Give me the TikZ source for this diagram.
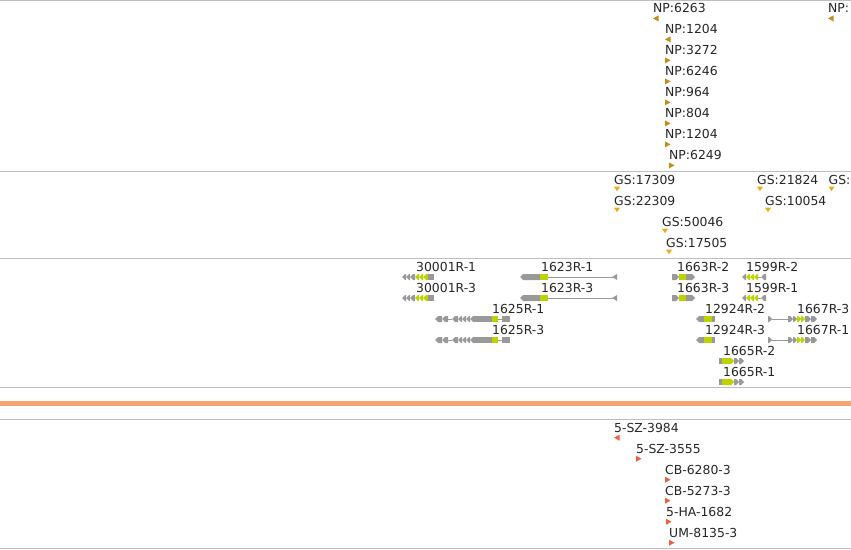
\documentclass[tikz,border=0pt]{standalone}
\usepackage{fontspec}
\setmainfont{DejaVu Sans}

\definecolor{npcol}{RGB}{200,140,20}
\definecolor{gscol}{RGB}{240,170,30}
\definecolor{svcol}{RGB}{240,95,65}
\definecolor{gcol}{RGB}{153,153,153}
\definecolor{cdscol}{RGB}{190,210,0}
\definecolor{sepcol}{RGB}{190,190,190}
\definecolor{bandcol}{RGB}{244,164,112}

\tikzset{
	lab/.style={anchor=base west,inner sep=0pt,text=black!85,font=\fontsize{12.4}{14}\selectfont},
	sepline/.style={draw=sepcol,line width=1pt}
}

% markers under the labels
\newcommand{\tipL}[2]{\fill[#1,shift={(#2.base west)}] (0,5.7) -- (5.5,2.7) -- (5.5,8.7) -- cycle;}
\newcommand{\tipR}[2]{\fill[#1,shift={(#2.base west)}] (0,2.7) -- (5.5,5.7) -- (0,8.7) -- cycle;}
\newcommand{\tipD}[2]{\fill[#1,shift={(#2.base west)}] (0,2.7) -- (6,2.7) -- (3,7.2) -- cycle;}

% gene parts: from, to, row, colour
\newcommand{\exL}[4]{\fill[#4] (#1,#3) -- (#1+3,#3-3) -- (#2,#3-3) -- (#2,#3+3) -- (#1+3,#3+3) -- cycle;}
\newcommand{\exR}[4]{\fill[#4] (#1,#3-3) -- (#2-3,#3-3) -- (#2,#3) -- (#2-3,#3+3) -- (#1,#3+3) -- cycle;}
\newcommand{\exB}[4]{\fill[#4] (#1,#3-3) rectangle (#2,#3+3);}
\newcommand{\intr}[3]{\draw[gcol,line width=1pt] (#1,#3) -- (#2,#3);}

\begin{document}
\begin{tikzpicture}[x=1pt,y=-1pt]
		\useasboundingbox (0,0) rectangle (851,549);
		\clip (0,0) rectangle (851,549);

		% track borders
		\draw[sepline]
			(0,0.5) -- (851,0.5)
			(0,171) -- (851,171)
			(0,258) -- (851,258)
			(0,387) -- (851,387)
			(0,419) -- (851,419)
			(0,548) -- (851,548);
		\fill[bandcol] (0,401) rectangle (851,406);

		% NP track
		\node[lab] (np1) at (653,12.7) {NP:6263};
		\node[lab] (np2) at (828,12.7) {NP:};
		\node[lab] (np3) at (665,33.7) {NP:1204};
		\node[lab] (np4) at (665,54.7) {NP:3272};
		\node[lab] (np5) at (665,75.7) {NP:6246};
		\node[lab] (np6) at (665,96.7) {NP:964};
		\node[lab] (np7) at (665,117.7) {NP:804};
		\node[lab] (np8) at (665,138.7) {NP:1204};
		\node[lab] (np9) at (669,159.7) {NP:6249};
		\tipL{npcol}{np1} \tipL{npcol}{np2} \tipL{npcol}{np3}
		\foreach \n in {np4,np5,np6,np7,np8,np9} {\tipR{npcol}{\n}}

		% GS track
		\node[lab] (gs1) at (614,184) {GS:17309};
		\node[lab] (gs2) at (614,205) {GS:22309};
		\node[lab] (gs3) at (662,226) {GS:50046};
		\node[lab] (gs4) at (666,247) {GS:17505};
		\node[lab] (gs5) at (757,184) {GS:21824};
		\node[lab] (gs6) at (765,205) {GS:10054};
		\node[lab] (gs7) at (828.5,184) {GS:};
		\foreach \n in {gs1,gs2,gs3,gs4,gs5,gs6,gs7} {\tipD{gscol}{\n}}

		% transcripts
		\node[lab] (t30001a) at (416,271) {30001R-1};
		\node[lab] (t30001b) at (416,292) {30001R-3};
		\node[lab] (t1623a) at (541,271) {1623R-1};
		\node[lab] (t1623b) at (541,292) {1623R-3};
		\node[lab] (t1625a) at (492,313) {1625R-1};
		\node[lab] (t1625b) at (492,334) {1625R-3};
		\node[lab] (t1663a) at (677,271) {1663R-2};
		\node[lab] (t1663b) at (677,292) {1663R-3};
		\node[lab] (t1599a) at (746,271) {1599R-2};
		\node[lab] (t1599b) at (746,292) {1599R-1};
		\node[lab] (t12924a) at (705,313) {12924R-2};
		\node[lab] (t12924b) at (705,334) {12924R-3};
		\node[lab] (t1667a) at (797,313) {1667R-3};
		\node[lab] (t1667b) at (797,334) {1667R-1};
		\node[lab] (t1665a) at (723,355) {1665R-2};
		\node[lab] (t1665b) at (723,376) {1665R-1};

		\foreach \y in {277,298} {
			\exL{402}{406}{\y}{gcol} \exL{406}{410}{\y}{gcol} \exL{410}{415}{\y}{gcol}
			\exL{415}{419}{\y}{cdscol} \exL{419}{423}{\y}{cdscol} \exL{423}{428}{\y}{cdscol}
			\exB{428}{434}{\y}{gcol}

			\exL{520}{540}{\y}{gcol} \exB{540}{548}{\y}{cdscol}
			\intr{548}{613}{\y}
			\fill[gcol] (612,\y) -- (617,\y-3) -- (617,\y+3) -- cycle;

			\exR{672}{679}{\y}{gcol} \exB{679}{686}{\y}{cdscol} \exR{686}{695}{\y}{gcol}

			\exL{742}{746}{\y}{gcol} \exL{746}{750}{\y}{cdscol} \exL{750}{754}{\y}{cdscol}
			\exL{754}{758}{\y}{cdscol} \intr{758}{761}{\y} \exL{761}{766}{\y}{gcol}
		}
		\foreach \y in {319,340} {
			\exL{435}{442}{\y}{gcol} \exL{442}{448}{\y}{gcol} \intr{448}{452}{\y}
			\exL{452}{458}{\y}{gcol} \exL{458}{462}{\y}{gcol} \exL{462}{466}{\y}{gcol}
			\exL{466}{470}{\y}{gcol} \exL{470}{474}{\y}{gcol} \exB{474}{492}{\y}{gcol}
			\exB{492}{498}{\y}{cdscol} \intr{498}{502}{\y} \exB{502}{510}{\y}{gcol}

			\exL{696}{704}{\y}{gcol} \exB{704}{712}{\y}{cdscol} \exB{712}{715}{\y}{gcol}

			\exR{768}{772}{\y}{gcol} \intr{772}{788}{\y}
			\exR{788}{793}{\y}{gcol} \exR{793}{797}{\y}{gcol}
			\exR{797}{801}{\y}{cdscol} \exR{801}{805}{\y}{cdscol}
			\exR{805}{811}{\y}{gcol} \exR{811}{817}{\y}{gcol}
		}
		\foreach \y in {361,382} {
			\exB{719}{722}{\y}{gcol} \exR{722}{734}{\y}{cdscol}
			\exR{734}{739}{\y}{gcol} \exR{739}{744}{\y}{gcol}
		}

		% bottom track
		\node[lab] (sv1) at (614,432) {5-SZ-3984};
		\node[lab] (sv2) at (636,453) {5-SZ-3555};
		\node[lab] (sv3) at (665,474) {CB-6280-3};
		\node[lab] (sv4) at (665,495) {CB-5273-3};
		\node[lab] (sv5) at (666,516) {5-HA-1682};
		\node[lab] (sv6) at (669,537) {UM-8135-3};
		\tipL{svcol}{sv1}
		\foreach \n in {sv2,sv3,sv4,sv5,sv6} {\tipR{svcol}{\n}}

\end{tikzpicture}
\end{document}
